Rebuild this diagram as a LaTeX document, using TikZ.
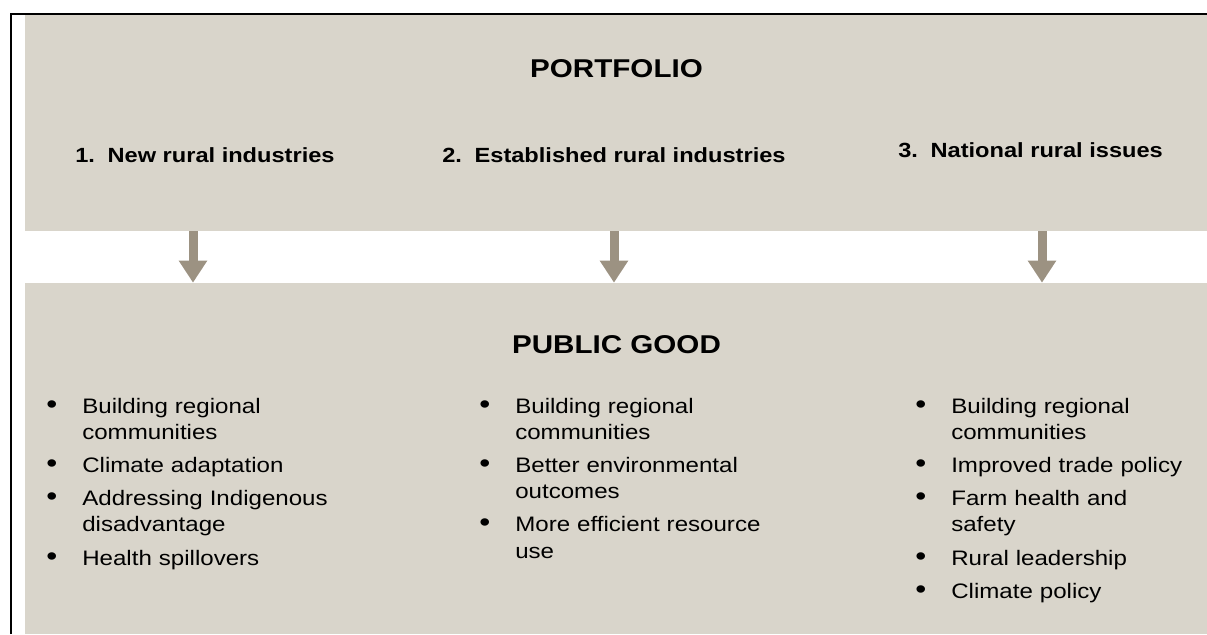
\documentclass[tikz,border=0pt]{standalone}
\usepackage{fontspec}
\setmainfont{Liberation Sans}[FakeStretch=1.15]
\usepackage{tikz}
\usetikzlibrary{arrows.meta}
\usetikzlibrary{positioning}
\usepackage{xcolor}

\definecolor{panelgray}{HTML}{D9D5CB}
\definecolor{arrowgray}{HTML}{9C9282}

\newlength{\pxu}
\setlength{\pxu}{0.025cm}
% one bullet point of a column
\newcommand{\gooditem}[1]{\noindent\hangindent=36\pxu\hangafter=1\makebox[36\pxu][l]{\scalebox{1.3}{\textbullet}}#1\par}

\tikzset{
  panel/.style={fill=panelgray, inner sep=0, minimum width=29.55cm},
  title/.style={anchor=base, font=\fontsize{18.3pt}{22pt}\selectfont\bfseries},
  stream/.style={anchor=base west, inner sep=0, font=\fontsize{14.6pt}{18pt}\selectfont\bfseries},
  goods/.style={anchor=base west, inner sep=0, text width=9cm, align=left,
    font=\fontsize{14.9pt}{18.7pt}\selectfont,
    execute at begin node={\setlength{\parskip}{4.9pt}\hyphenpenalty=10000}},
  flow/.style={arrowgray, line width=0.225cm, -{Triangle[width=0.675cm,length=0.55cm]}}
}

\begin{document}
\begin{tikzpicture}[x=0.025cm,y=-0.025cm]
\useasboundingbox (0,0) rectangle (1207,634);
\node[panel, minimum height=5.4cm] (portfolio) at (616,123) {};
\node[panel, minimum height=8.775cm] (good) at (616,458.5) {};
\draw[line width=1.3pt] (11,634) -- (11,14) -- (1207,14);

\node[title] (ptitle) at (616.5,77) {PORTFOLIO};
\node[stream] (s1) at (75,162) {1.\hspace{9pt}New rural industries};
\node[stream] (s2) at (442,162) {2.\hspace{9pt}Established rural industries};
\node[stream] (s3) at (898,157) {3.\hspace{9pt}National rural issues};

\draw[flow] (193,0 |- portfolio.south) -- (193,0 |- good.north);
\draw[flow] (614,0 |- portfolio.south) -- (614,0 |- good.north);
\draw[flow] (1042,0 |- portfolio.south) -- (1042,0 |- good.north);

\node[title] (gtitle) at (616.5,353) {PUBLIC GOOD};
\node[goods] (g1) at (46,413) {%
  \gooditem{Building regional\newline communities}
  \gooditem{Climate adaptation}
  \gooditem{Addressing Indigenous\newline disadvantage}
  \gooditem{Health spillovers}};
\node[goods] (g2) at (479,413) {%
  \gooditem{Building regional\newline communities}
  \gooditem{Better environmental\newline outcomes}
  \gooditem{More efficient resource\newline use}};
\node[goods] (g3) at (915,413) {%
  \gooditem{Building regional\newline communities}
  \gooditem{Improved trade policy}
  \gooditem{Farm health and\newline safety}
  \gooditem{Rural leadership}
  \gooditem{Climate policy}};
\end{tikzpicture}
\end{document}
